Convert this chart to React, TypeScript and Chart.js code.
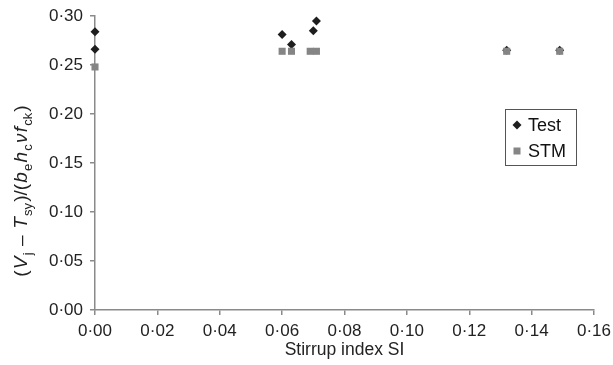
import React, { useEffect, useRef } from "react";
import { Chart, registerables } from "chart.js";

Chart.register(...registerables);

const testX = [0, 0, 0.060, 0.063, 0.070, 0.071, 0.132, 0.149];
const testY = [0.284, 0.266, 0.281, 0.271, 0.285, 0.295, 0.265, 0.265];
const stmX = [0, 0.060, 0.063, 0.069, 0.071, 0.132, 0.149];
const stmY = [0.248, 0.264, 0.264, 0.264, 0.264, 0.264, 0.264];
const xTicks = [0, 0.02, 0.04, 0.06, 0.08, 0.1, 0.12, 0.14, 0.16];
const yTicks = [0, 0.05, 0.1, 0.15, 0.2, 0.25, 0.3];
const seriesNames = ["Test", "STM"];
const xTitle = "Stirrup index SI";

const FONT = "'Liberation Sans', Arial, sans-serif";
const AXIS = "#8a8a8a";
const TEST_COLOR = "#1e1e1e";
const STM_COLOR = "#858585";

const fmt = (v: number) => Number(v).toFixed(2).replace(".", "·");

const yTitlePlugin = {
  id: "yTitleRich",
  afterDraw(chart: any) {
    const ctx = chart.ctx as CanvasRenderingContext2D;
    const segs: [string, boolean, boolean][] = [
      ["(", false, false],
      ["V", true, false],
      ["j", false, true],
      [" – ", false, false],
      ["T", true, false],
      ["sy", false, true],
      [")/(", false, false],
      ["b", true, false],
      ["e", false, true],
      ["h", true, false],
      ["c", false, true],
      ["ν", true, false],
      ["f", true, false],
      ["ck", false, true],
      [")", false, false],
    ];
    const fontFor = (it: boolean, sub: boolean) =>
      `${it ? "italic " : ""}${sub ? 13 : 19}px ${FONT}`;
    const gap = 1.2;
    ctx.save();
    let total = 0;
    const widths = segs.map(([t, it, sub]) => {
      ctx.font = fontFor(it, sub);
      const w = ctx.measureText(t).width;
      total += w;
      return w;
    });
    total += gap * (segs.length - 1);
    ctx.translate(22, 191);
    ctx.rotate(-Math.PI / 2);
    ctx.fillStyle = "#222";
    ctx.textBaseline = "middle";
    ctx.textAlign = "left";
    let x = -total / 2;
    segs.forEach(([t, it, sub], i) => {
      ctx.font = fontFor(it, sub);
      ctx.fillText(t, x, sub ? 6 : 0);
      x += widths[i] + gap;
    });
    ctx.restore();
  },
};

const legendPlugin = {
  id: "boxLegend",
  afterDraw(chart: any) {
    const ctx = chart.ctx as CanvasRenderingContext2D;
    const area = chart.chartArea;
    const right = area.right - 18;
    const left = right - 71;
    const top = area.top + 93;
    const h = 56;
    ctx.save();
    ctx.fillStyle = "#fff";
    ctx.fillRect(left, top, right - left, h);
    ctx.strokeStyle = "#555";
    ctx.lineWidth = 1;
    ctx.strokeRect(Math.round(left) + 0.5, Math.round(top) + 0.5, right - left, h);
    const mx = left + 12;
    const rows = [top + 16, top + 42];
    ctx.fillStyle = TEST_COLOR;
    ctx.beginPath();
    ctx.moveTo(mx, rows[0] - 4.5);
    ctx.lineTo(mx + 4.5, rows[0]);
    ctx.lineTo(mx, rows[0] + 4.5);
    ctx.lineTo(mx - 4.5, rows[0]);
    ctx.closePath();
    ctx.fill();
    ctx.fillStyle = STM_COLOR;
    ctx.fillRect(mx - 3.5, rows[1] - 3.5, 7, 7);
    ctx.fillStyle = "#111";
    ctx.font = `18px ${FONT}`;
    ctx.textBaseline = "middle";
    ctx.textAlign = "left";
    ctx.fillText(seriesNames[0], left + 23, rows[0] + 1);
    ctx.fillText(seriesNames[1], left + 23, rows[1] + 1);
    ctx.restore();
  },
};

export default function App() {
  const ref = useRef<HTMLCanvasElement | null>(null);
  useEffect(() => {
    if (!ref.current) return;
    const chart = new Chart(ref.current, {
      type: "scatter",
      data: {
        datasets: [
          {
            label: seriesNames[0],
            data: testX.map((x, i) => ({ x, y: testY[i] })),
            pointStyle: "rectRot",
            pointRadius: 4.5,
            backgroundColor: TEST_COLOR,
            borderColor: TEST_COLOR,
            borderWidth: 0,
            order: 2,
            clip: false as any,
          },
          {
            label: seriesNames[1],
            data: stmX.map((x, i) => ({ x, y: stmY[i] })),
            pointStyle: "rect",
            pointRadius: 5,
            backgroundColor: STM_COLOR,
            borderColor: STM_COLOR,
            borderWidth: 0,
            order: 1,
            clip: false as any,
          },
        ],
      },
      options: {
        animation: false,
        responsive: false,
        devicePixelRatio: 1,
        layout: { padding: { top: 16, right: 19, left: 0, bottom: 0 } },
        plugins: {
          legend: { display: false },
          tooltip: { enabled: false },
        },
        scales: {
          x: {
            type: "linear",
            min: 0,
            max: 0.16,
            afterBuildTicks: (s: any) => {
              s.ticks = xTicks.map((v) => ({ value: v }));
            },
            afterFit: (s: any) => {
              s.height = 55;
              s.paddingRight = 0;
              s.paddingLeft = 0;
            },
            ticks: {
              callback: (v: any) => fmt(v),
              font: { family: FONT, size: 17 },
              color: "#222",
              padding: 6,
              maxRotation: 0,
              autoSkip: false,
            },
            grid: {
              drawOnChartArea: false,
              drawTicks: true,
              tickLength: 5,
              color: AXIS,
              lineWidth: 1.5,
            },
            border: { display: true, color: AXIS, width: 1.5 },
            title: {
              display: true,
              text: xTitle,
              font: { family: FONT, size: 17.5 },
              color: "#222",
              padding: { top: 0, bottom: 4 },
            },
          },
          y: {
            type: "linear",
            min: 0,
            max: 0.3,
            afterBuildTicks: (s: any) => {
              s.ticks = yTicks.map((v) => ({ value: v }));
            },
            afterFit: (s: any) => {
              s.width = 95;
              s.paddingTop = 0;
              s.paddingBottom = 0;
            },
            ticks: {
              callback: (v: any) => fmt(v),
              font: { family: FONT, size: 17 },
              color: "#222",
              padding: 7,
              autoSkip: false,
            },
            grid: {
              drawOnChartArea: false,
              drawTicks: true,
              tickLength: 5,
              color: AXIS,
              lineWidth: 1.5,
            },
            border: { display: true, color: AXIS, width: 1.5 },
          },
        },
      },
      plugins: [yTitlePlugin, legendPlugin],
    });
    return () => chart.destroy();
  }, []);
  return (
    <div style={{ position: "fixed", left: 0, top: 0, width: 613, height: 365, background: "#fff" }}>
      <canvas ref={ref} width={613} height={365} style={{ display: "block" }} />
    </div>
  );
}
